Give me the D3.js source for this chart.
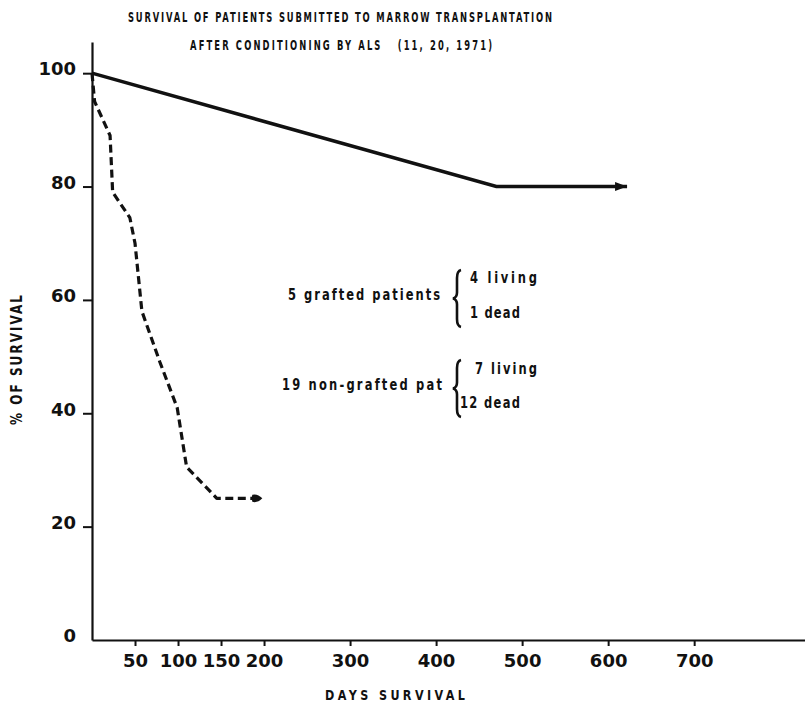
<!DOCTYPE html>
<html>
<head>
<meta charset="utf-8">
<script src="https://cdn.jsdelivr.net/npm/d3@7"></script>
<style>
  body { margin: 0; background: #fff; }
  svg { display: block; }
  .lbl { font-family: "DejaVu Sans", Roboto, sans-serif; font-weight: bold; fill: #111; white-space: pre; }
  .tick text { font-family: "DejaVu Sans", sans-serif; font-weight: bold; font-size: 18px; fill: #111; }
</style>
</head>
<body>
<svg id="chart" width="805" height="704"></svg>
<script>
// values
const dayTicks = [50, 100, 150, 200, 300, 400, 500, 600, 700];
const pctTicks = [0, 20, 40, 60, 80, 100];

const graftedDays = [0, 470, 622];
const graftedPct = [100, 80, 80];

const nonGraftedDays = [0, 3, 21, 24, 44, 50, 58, 79, 99, 110, 145, 198];
const nonGraftedPct = [100, 95, 89, 79, 74.5, 70, 58, 49, 41, 30.5, 25, 25];

const titleLines = [
  "SURVIVAL OF PATIENTS SUBMITTED TO MARROW TRANSPLANTATION",
  "AFTER CONDITIONING BY ALS   (11, 20, 1971)"
];

const svg = d3.select("#chart");

const x = d3.scaleLinear().domain([0, 830]).range([92, 806]);
const y = d3.scaleLinear().domain([0, 105.5]).range([640, 42]);

// arrow heads
const defs = svg.append("defs");
defs.append("marker")
  .attr("id", "arrow")
  .attr("markerUnits", "userSpaceOnUse")
  .attr("markerWidth", 14)
  .attr("markerHeight", 10)
  .attr("refX", 12)
  .attr("refY", 5)
  .attr("orient", "auto")
  .append("path")
  .attr("d", "M0,0.5 L12,5 L0,9.5 Z")
  .attr("fill", "#111");

defs.append("marker")
  .attr("id", "blob")
  .attr("markerUnits", "userSpaceOnUse")
  .attr("markerWidth", 12)
  .attr("markerHeight", 10)
  .attr("refX", 11)
  .attr("refY", 5)
  .attr("orient", "auto")
  .append("path")
  .attr("d", "M1,1.5 Q6,0 11,5 Q6,10 1,8.5 Q0,5 1,1.5 Z")
  .attr("fill", "#111");

// axes
const xAxis = svg.append("g")
  .attr("transform", `translate(0,${y(0)})`)
  .call(d3.axisBottom(x).tickValues(dayTicks).tickSize(6).tickSizeOuter(0).tickPadding(8));
xAxis.select(".domain").attr("stroke", "#111").attr("stroke-width", 2.2);
xAxis.selectAll(".tick line").attr("stroke", "#111").attr("stroke-width", 2);

const yAxis = svg.append("g")
  .attr("transform", `translate(${x(0)},0)`)
  .call(d3.axisLeft(y).tickValues(pctTicks).tickSize(9).tickSizeOuter(0).tickPadding(7));
yAxis.select(".domain").attr("stroke", "#111").attr("stroke-width", 2.2);
yAxis.selectAll(".tick line").attr("stroke", "#111").attr("stroke-width", 2)
  .filter(d => d === 0).remove();
yAxis.selectAll(".tick text").attr("dy", "0.1em");

// survival curves
const line = d3.line().x(d => x(d[0])).y(d => y(d[1]));

svg.append("path")
  .datum(d3.zip(graftedDays, graftedPct))
  .attr("d", line)
  .attr("fill", "none")
  .attr("stroke", "#111")
  .attr("stroke-width", 3.5)
  .attr("marker-end", "url(#arrow)");

svg.append("path")
  .datum(d3.zip(nonGraftedDays, nonGraftedPct))
  .attr("d", line)
  .attr("fill", "none")
  .attr("stroke", "#111")
  .attr("stroke-width", 3.2)
  .attr("stroke-linejoin", "round")
  .attr("stroke-dasharray", "8,4.5")
  .attr("marker-end", "url(#blob)");

// condensed, letter-spaced text fitted to a width
function label(t, tx, ty, w, size, k, rot) {
  const g = svg.append("g")
    .attr("transform", `translate(${tx},${ty})` + (rot ? ` rotate(${rot})` : "") + ` scale(${k},1)`);
  g.append("text").attr("class", "lbl")
    .attr("font-size", size)
    .attr("textLength", w / k).attr("lengthAdjust", "spacing")
    .text(t);
}

label(titleLines[0], 128, 22, 424, 14, 0.6);
label(titleLines[1], 190, 50, 302, 14, 0.6);
label("DAYS SURVIVAL", 325, 700, 140, 14, 0.8);
label("% OF SURVIVAL", 22, 425, 130, 15, 0.8, -90);

// annotation with braces
const notes = [
  { t: "5 grafted patients", x: 288, y: 300, w: 152 },
  { t: "4 living", x: 470, y: 283, w: 67 },
  { t: "1 dead", x: 470, y: 318, w: 50 },
  { t: "19 non-grafted pat", x: 282, y: 390, w: 160 },
  { t: "7 living", x: 475, y: 374, w: 62 },
  { t: "12 dead", x: 460, y: 408, w: 60 }
];
notes.forEach(d => label(d.t, d.x, d.y, d.w, 16, 0.72));

function brace(bx, y0, y1) {
  const ym = (y0 + y1) / 2;
  return `M${bx + 4},${y0} Q${bx},${y0 + 1} ${bx},${y0 + 8} L${bx},${ym - 6} Q${bx},${ym - 1} ${bx - 4},${ym}` +
    ` Q${bx},${ym + 1} ${bx},${ym + 6} L${bx},${y1 - 8} Q${bx},${y1 - 1} ${bx + 4},${y1}`;
}
[[457, 270, 327], [457, 360, 417]].forEach(b => {
  svg.append("path")
    .attr("d", brace(b[0], b[1], b[2]))
    .attr("fill", "none")
    .attr("stroke", "#111")
    .attr("stroke-width", 2.6);
});
</script>
</body>
</html>
